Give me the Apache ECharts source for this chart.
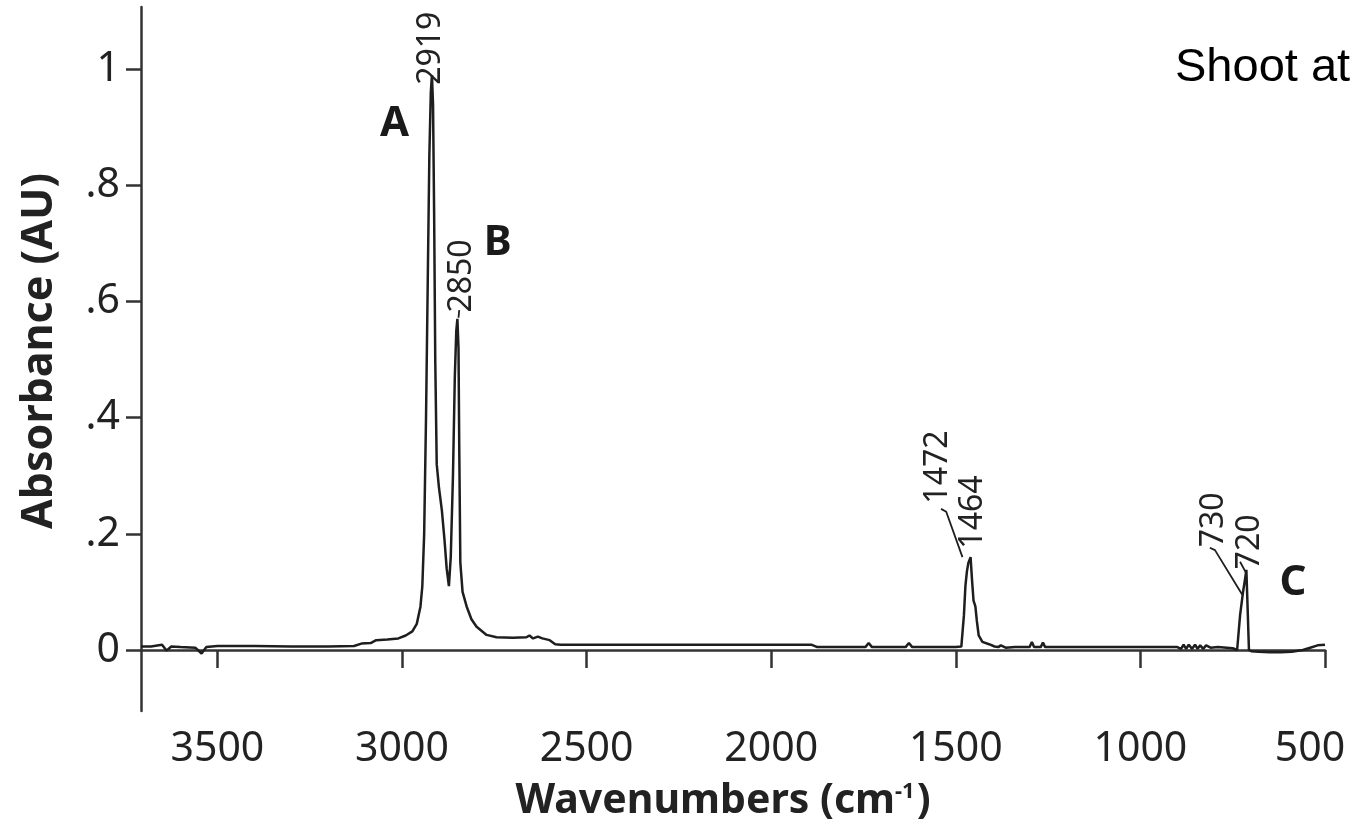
<!DOCTYPE html>
<html>
<head>
<meta charset="utf-8">
<script src="https://cdn.jsdelivr.net/npm/echarts@6/dist/echarts.min.js"></script>
<style>
html,body{margin:0;padding:0;background:#fff;}
#chart{width:1355px;height:826px;}
</style>
</head>
<body>
<div id="chart"></div>
<script>
// Spectrum: wavenumber (cm-1) and absorbance (AU)
const wavenumbers = [3707,3680,3650,3638,3625,3600,3560,3543,3530,3500,3400,3300,3200,3130,3110,3085,3070,3040,3010,2990,2972,2960,2950,2945,2940,2935,2930,2926,2922,2919,2916,2913,2910,2906,2900,2892,2885,2879,2873,2868,2862,2857,2853,2850,2847,2845,2842,2836,2825,2812,2798,2771,2744,2700,2663,2655,2645,2632,2620,2600,2585,2570,2400,2200,2000,1890,1875,1745,1736,1727,1636,1627,1618,1500,1485,1478,1474,1470,1466,1460,1456,1452,1447,1443,1438,1428,1410,1395,1385,1378,1365,1340,1300,1294,1288,1270,1264,1258,1200,1000,900,890,883,876,869,860,852,845,838,830,822,810,790,750,738,730,722,717,713,710,706,700,680,650,620,590,560,540,520,500];
const absorbance  = [0.006,0.006,0.009,-0.001,0.006,0.005,0.004,-0.006,0.005,0.007,0.007,0.006,0.006,0.007,0.011,0.012,0.017,0.018,0.020,0.025,0.032,0.045,0.075,0.11,0.20,0.40,0.65,0.85,0.96,0.99,0.94,0.75,0.50,0.32,0.28,0.24,0.19,0.14,0.11,0.16,0.30,0.47,0.55,0.57,0.52,0.35,0.15,0.10,0.075,0.053,0.040,0.026,0.022,0.021,0.022,0.025,0.020,0.023,0.020,0.017,0.010,0.009,0.009,0.009,0.009,0.009,0.005,0.005,0.012,0.005,0.005,0.012,0.005,0.005,0.006,0.06,0.11,0.135,0.15,0.16,0.12,0.085,0.075,0.05,0.025,0.014,0.010,0.006,0.005,0.008,0.004,0.005,0.005,0.014,0.005,0.005,0.013,0.005,0.005,0.005,0.005,0.002,0.009,0.002,0.009,0.002,0.009,0.002,0.008,0.002,0.008,0.004,0.005,0.003,0.0,0.06,0.10,0.12,0.138,0.08,0.0,-0.002,-0.003,-0.004,-0.004,-0.003,0.0,0.004,0.008,0.009];

// Tick labels
const xTicks = [3500,3000,2500,2000,1500,1000,500];
const yTicks = [0,0.2,0.4,0.6,0.8,1];
const yTickLabels = ['0','.2','.4','.6','.8','1'];

// Peak annotations: [text, wavenumber, absorbance]
const peakLabels = [['2919',2923,1.036],['2850',2839,0.644],['1472',1549,0.315],['1464',1454,0.2375],['730',801,0.224],['720',703,0.186]];
const bandLetters = [['A',3020,0.905],['B',2741,0.700],['C',587,0.115]];
// Leader lines (wavenumber, absorbance)
const leader2850 = [[2845,0.585],[2847,0.572]];
const leader1472 = [[1540,0.243],[1526,0.238],[1482,0.16]];
const leader730 = [[812,0.176],[798,0.172],[724,0.095]];
const leader720 = [[730,0.152],[715,0.134]];

const chart = echarts.init(document.getElementById('chart'));
const tickFont = 'Noto Sans';
const titleFont = 'Noto Sans';
const lineColor = '#1e1e1e';

function leaderSeries(pts){
  return {type:'line', data:pts, showSymbol:false, symbol:'none', silent:true,
    lineStyle:{color:lineColor,width:1.8}, z:3};
}

chart.setOption({
  animation:false,
  backgroundColor:'#fff',
  grid:{left:141,right:30,top:7,bottom:115,containLabel:false,outerBoundsMode:'none'},
  xAxis:{
    type:'value', inverse:true, min:500, max:3707, interval:500,
    axisLine:{show:true,lineStyle:{color:'#333',width:2.5}},
    axisTick:{show:true,length:18,lineStyle:{color:'#333',width:2.5},customValues:xTicks},
    axisLabel:{fontFamily:tickFont,fontSize:41,color:'#222',margin:18,customValues:xTicks,
      formatter:function(v){return v===xTicks[xTicks.length-1]?'{last|'+v+'}':String(v);},
      rich:{last:{fontFamily:tickFont,fontSize:41,color:'#222',padding:[0,30,0,0]}}},
    splitLine:{show:false},
    name:'Wavenumbers (cm{sup|-1})',
    nameLocation:'middle', nameGap:70,
    nameTextStyle:{fontFamily:titleFont,fontWeight:'bold',fontSize:41,color:'#222',padding:[0,20,0,0],
      rich:{sup:{fontFamily:titleFont,fontWeight:'bold',fontSize:22,color:'#222',verticalAlign:'top',padding:[0,2,18,0]}}}
  },
  yAxis:{
    type:'value', min:-0.105, max:1.107,
    axisLine:{show:true,lineStyle:{color:'#333',width:2.5}},
    axisTick:{show:true,length:15,lineStyle:{color:'#333',width:2.5},customValues:yTicks},
    axisLabel:{fontFamily:tickFont,fontSize:41,color:'#222',margin:21,customValues:yTicks,
      formatter:function(v){const i=yTicks.findIndex(t=>Math.abs(t-v)<1e-9);return i>=0?yTickLabels[i]:'';}},
    splitLine:{show:false},
    name:'Absorbance (AU)', nameLocation:'middle', nameGap:80,
    nameTextStyle:{fontFamily:titleFont,fontWeight:'bold',fontSize:43,color:'#222',padding:[0,0,0,16]}
  },
  series:[
    {type:'line', data:wavenumbers.map((w,i)=>[w,absorbance[i]]), showSymbol:false, symbol:'none',
      lineStyle:{color:lineColor,width:2.5}, z:2},
    {type:'scatter', data:peakLabels.map(p=>[p[1],p[2],p[0]]), symbolSize:0, silent:true, z:4,
      itemStyle:{opacity:1},
      label:{show:true,position:'inside',rotate:90,formatter:p=>p.data[2],fontFamily:tickFont,fontSize:32,color:'#222',opacity:1}},
    {type:'scatter', data:bandLetters.map(p=>[p[1],p[2],p[0]]), symbolSize:0, silent:true, z:4,
      itemStyle:{opacity:1},
      label:{show:true,position:'inside',formatter:p=>p.data[2],fontFamily:titleFont,fontWeight:'bold',fontSize:42,color:'#1a1a1a',opacity:1}},
    leaderSeries(leader2850), leaderSeries(leader1472), leaderSeries(leader730), leaderSeries(leader720)
  ],
  graphic:[{type:'text', left:1175, top:45, silent:true,
    style:{text:'Shoot at', fontFamily:'Liberation Sans', fontSize:47, fill:'#000'}}]
});
</script>
</body>
</html>
